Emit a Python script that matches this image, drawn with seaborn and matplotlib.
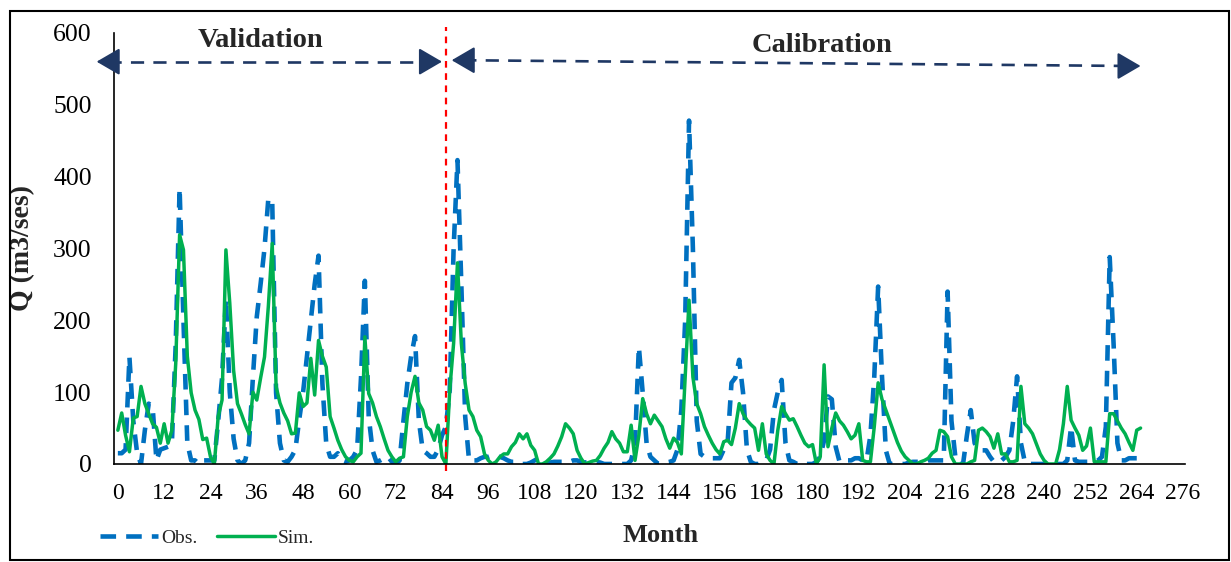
import numpy as np
import pandas as pd
import matplotlib
matplotlib.use("Agg")
import matplotlib.pyplot as plt
from matplotlib.patches import Rectangle
import seaborn as sns

# monthly discharge (m3/s)
obs = [15, 15, 20, 149, 60, 15, 0, 47, 84, 80, 5, 20,
       22, 24, 29, 168, 384, 200, 29, 5, 5, 0, 5, 5,
       5, 5, 60, 120, 230, 100, 35, 5, 0, 5, 29, 121,
       205, 251, 300, 370, 365, 99, 29, 5, 3, 10, 20, 62,
       100, 150, 200, 250, 290, 112, 28, 10, 10, 15, 5, 3,
       5, 10, 20, 120, 255, 66, 19, 3, 5, 8, 10, 3,
       0, 5, 60, 112, 150, 178, 60, 19, 15, 10, 10, 20,
       40, 52, 103, 300, 423, 250, 66, 5, 5, 5, 8, 10,
       10, 12, 12, 10, 8, 5, 3, 3, 0, 0, 0, 2,
       5, 8, 5, 3, 2, 3, 3, 3, 3, 3, 5, 5,
       3, 2, 3, 3, 3, 2, 0, 0, 0, 0, 0, 0,
       0, 5, 29, 163, 99, 29, 10, 5, 0, 0, 2, 3,
       5, 20, 75, 200, 478, 300, 60, 14, 10, 8, 8, 8,
       8, 20, 30, 113, 120, 145, 99, 20, 3, 0, 0, 3,
       5, 20, 75, 100, 117, 29, 5, 3, 0, 0, 0, 0,
       0, 3, 10, 33, 94, 90, 24, 3, 3, 5, 5, 8,
       8, 5, 5, 40, 122, 247, 122, 19, 0, 0, 0, 0,
       0, 2, 3, 3, 3, 3, 5, 5, 5, 5, 5, 240,
       60, 10, 0, 0, 40, 75, 29, 20, 19, 19, 10, 3,
       3, 5, 10, 19, 60, 122, 29, 3, 0, 0, 0, 0,
       0, 0, 0, 0, 0, 0, 5, 52, 5, 3, 3, 3,
       3, 3, 5, 10, 52, 288, 168, 29, 5, 5, 8, 8,
       8, 8]

sim = [47, 71, 40, 17, 64, 66, 108, 84, 70, 56, 51, 29,
       56, 29, 47, 140, 319, 298, 150, 99, 75, 62, 34, 36,
       10, 0, 66, 89, 298, 224, 130, 84, 70, 55, 42, 100,
       89, 120, 149, 220, 307, 108, 85, 71, 60, 42, 43, 99,
       80, 85, 147, 96, 172, 150, 135, 66, 50, 33, 20, 10,
       5, 3, 10, 15, 177, 98, 85, 66, 52, 35, 19, 10,
       3, 8, 10, 66, 100, 122, 85, 75, 52, 47, 33, 54,
       10, 0, 103, 168, 280, 168, 112, 75, 66, 47, 38, 14,
       5, 0, 3, 10, 14, 14, 24, 30, 42, 35, 42, 26,
       19, 0, 0, 3, 8, 14, 25, 38, 56, 50, 42, 19,
       8, 0, 2, 4, 5, 12, 22, 30, 45, 35, 29, 17,
       17, 54, 5, 40, 91, 70, 56, 68, 60, 52, 35, 22,
       36, 30, 14, 120, 228, 121, 84, 70, 52, 40, 29, 20,
       14, 31, 33, 27, 50, 84, 70, 61, 55, 50, 19, 56,
       14, 5, 0, 47, 80, 70, 61, 63, 52, 40, 29, 24,
       27, 0, 10, 138, 24, 50, 71, 60, 54, 45, 35, 40,
       56, 5, 3, 3, 52, 113, 90, 75, 60, 45, 30, 18,
       10, 5, 0, 0, 3, 5, 8, 15, 19, 47, 45, 38,
       10, 0, 0, 0, 0, 3, 5, 47, 50, 45, 38, 22,
       42, 14, 14, 3, 3, 5, 108, 56, 50, 42, 28, 14,
       5, 0, 0, 0, 20, 56, 108, 61, 50, 40, 19, 25,
       50, 3, 3, 3, 3, 70, 70, 60, 50, 42, 30, 19,
       47, 50]

months = np.arange(len(obs))
split_month = 85
x_ticks = list(range(0, 277, 12))
y_ticks = [0, 100, 200, 300, 400, 500, 600]

df = pd.DataFrame({"Month": months, "Obs.": obs, "Sim.": sim})

sns.set_theme(style="white")
plt.rcParams["font.family"] = ["Liberation Serif", "DejaVu Serif"]

fig = plt.figure(figsize=(12.31, 5.62), dpi=100)
ax = fig.add_axes([0.0926, 0.1744, 0.870, 0.767])

navy = "#1F3864"
blue = "#0070C0"
green = "#00B050"

sns.lineplot(data=df, x="Month", y="Obs.", color=blue, lw=3.3, ax=ax, label="Obs.")
ax.lines[-1].set_linestyle((0, (3.4, 2.2)))
sns.lineplot(data=df, x="Month", y="Sim.", color=green, lw=2.5, ax=ax, label="Sim.")

ax.set_xlim(-1, 276.5)
ax.set_ylim(0, 600)
ax.set_xticks(x_ticks)
ax.set_yticks(y_ticks)
ax.tick_params(axis="both", length=0, colors="black")
ax.tick_params(axis="x", pad=14, labelsize=17)
ax.tick_params(axis="y", pad=16, labelsize=18.5)
for side in ["top", "right"]:
    ax.spines[side].set_visible(False)
for side in ["left", "bottom"]:
    ax.spines[side].set_color("black")
    ax.spines[side].set_linewidth(1.2)

ax.set_xlabel("Month", fontsize=19, fontweight="bold")
ax.xaxis.set_label_coords(0.51, -0.14)
ax.set_ylabel("Q (m3/ses)", fontsize=20, fontweight="bold")
ax.yaxis.set_label_coords(-0.074, 0.5)

# split between validation and calibration
ax.plot([split_month, split_month], [-10, 608], color="red", lw=1.6,
        ls=(0, (3, 2.5)), clip_on=False)

# period arrows
def period_arrow(x0, x1, y0, y1):
    ax.plot([x0 + 3, x1 - 3], [y0, y1], color=navy, lw=1.9,
            ls=(0, (5, 3.5)), clip_on=False)
    for xa, ya, xb, yb in [(x0 + 4, y0, x0, y0), (x1 - 4, y1, x1, y1)]:
        ax.annotate("", xy=(xb, yb), xytext=(xa, ya),
                    arrowprops=dict(arrowstyle="-|>,head_length=0.6,head_width=0.35",
                                    color=navy, lw=1.5, mutation_scale=24,
                                    shrinkA=0, shrinkB=0),
                    annotation_clip=False)

period_arrow(-5.5, 84, 560, 560)
period_arrow(86.5, 265, 562, 554)
ax.text(37, 590, "Validation", fontsize=20.5, fontweight="bold", ha="center", va="center")
ax.text(182.5, 582, "Calibration", fontsize=20.5, fontweight="bold", ha="center", va="center")

ax.legend(loc="center left", bbox_to_anchor=(0.067, 0.043), bbox_transform=fig.transFigure,
          ncol=2, frameon=False, fontsize=14, handlelength=3.0, handletextpad=0.15,
          columnspacing=1.0)

fig.patches.append(Rectangle((10 / 1231, 2 / 562), 1219 / 1231, 549 / 562,
                             transform=fig.transFigure, fill=False,
                             edgecolor="black", lw=1.5))

fig.savefig("out.png", dpi=100)
